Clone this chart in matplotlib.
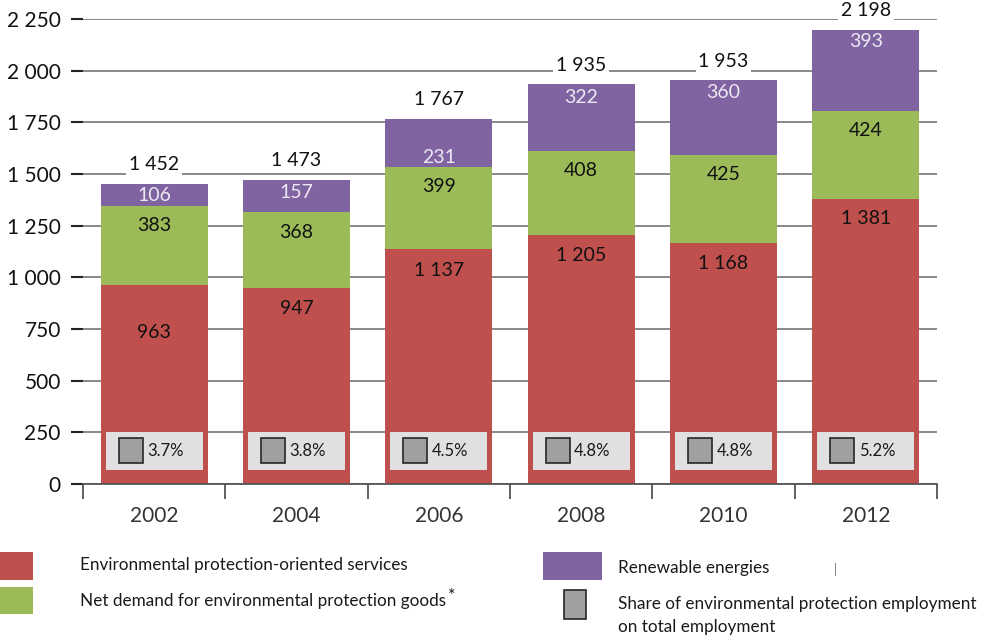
import matplotlib.pyplot as plt
from matplotlib.patches import Rectangle

years = ['2002', '2004', '2006', '2008', '2010', '2012']
services = [963, 947, 1137, 1205, 1168, 1381]
goods = [383, 368, 399, 408, 425, 424]
renewables = [106, 157, 231, 322, 360, 393]
totals = [1452, 1473, 1767, 1935, 1953, 2198]
shares = ['3.7%', '3.8%', '4.5%', '4.8%', '4.8%', '5.2%']

red = '#c0504d'
green = '#9bbb59'
purple = '#8064a2'

plt.rcParams['font.family'] = ['Lato', 'DejaVu Sans']


def fmt(v):
    return '{:,}'.format(int(v)).replace(',', ' ')


fig = plt.figure(figsize=(9.81, 6.37), dpi=100)
W, H = 981.0, 637.0
ax = fig.add_axes([83 / W, 1 - 484 / H, (937 - 83) / W, (484 - 19) / H])

x = list(range(len(years)))
bw = 0.75
bottom2 = [s + g for s, g in zip(services, goods)]
ax.bar(x, services, width=bw, color=red, zorder=2)
ax.bar(x, goods, width=bw, bottom=services, color=green, zorder=2)
ax.bar(x, renewables, width=bw, bottom=bottom2, color=purple, zorder=2)

# px -> data units for offsets
upp = 2250 / 465.0
# label drop below segment top, in pixels (the original is a bit uneven)
red_drop = [48, 20, 21, 21, 21, 20]
purple_drop = [12, 13, 39, 13, 12, 12]

for i in x:
    ax.text(i, services[i] - red_drop[i] * upp, fmt(services[i]), ha='center',
            va='center', fontsize=14, color='#111111', zorder=4)
    ax.text(i, bottom2[i] - 20 * upp, fmt(goods[i]), ha='center', va='center',
            fontsize=14, color='#111111', zorder=4)
    ax.text(i, totals[i] - purple_drop[i] * upp, fmt(renewables[i]), ha='center',
            va='center', fontsize=14, color='#ece8f2', zorder=4)
    ax.text(i, totals[i] + 19 * upp, fmt(totals[i]), ha='center', va='center',
            fontsize=14, color='#111111', zorder=4, clip_on=False,
            bbox=dict(facecolor='white', edgecolor='none', pad=2))
    # share box
    ax.add_patch(Rectangle((i - 0.34, 68), 0.68, 184, facecolor='#e0e0e0',
                           edgecolor='none', zorder=3))
    ax.add_patch(Rectangle((i - 0.25, 102), 0.17, 120, facecolor='#a0a0a0',
                           edgecolor='#262626', linewidth=1.2, zorder=4))
    ax.text(i - 0.05, 160, shares[i], ha='left', va='center', fontsize=12,
            color='#1a1a1a', zorder=5)

ax.set_xlim(-0.5, 5.5)
ax.set_ylim(0, 2250)
ax.set_yticks(range(0, 2251, 250))
ax.set_yticklabels([fmt(v) for v in range(0, 2251, 250)], fontsize=15, color='#111111')
ax.set_xticks(x)
ax.set_xticklabels(years, fontsize=15, color='#333333')
ax.set_xticks([i - 0.5 for i in range(7)], minor=True)
ax.tick_params(axis='x', which='major', length=0, pad=16)
ax.tick_params(axis='x', which='minor', length=11, width=1.3, color='#555555')
ax.tick_params(axis='y', length=9, width=1.5, color='#222222', pad=7)
ax.yaxis.grid(True, color='#7f7f7f', linewidth=1.3, zorder=0)
ax.set_axisbelow(True)
for s in ['top', 'right', 'left']:
    ax.spines[s].set_visible(False)
ax.spines['bottom'].set_color('#555555')
ax.spines['bottom'].set_linewidth(1.3)

# legend drawn by hand
def patch(px, py, pw, ph, color, edge='none', lw=0):
    fig.add_artist(Rectangle((px / W, 1 - (py + ph) / H), pw / W, ph / H,
                             facecolor=color, edgecolor=edge, linewidth=lw,
                             transform=fig.transFigure))

patch(0, 552, 33, 28, red)
patch(0, 587, 33, 27, green)
patch(543, 552, 59, 28, purple)
patch(564, 590, 22, 29, '#a0a0a0', '#262626', 1.2)

lt = dict(fontsize=12.3, color='#1a1a1a', va='center', ha='left')
fig.text(80 / W, 1 - 565 / H, 'Environmental protection-oriented services', **lt)
goods_txt = fig.text(80 / W, 1 - 601 / H, 'Net demand for environmental protection goods', **lt)
fig.text(618 / W, 1 - 568 / H, 'Renewable energies', **lt)
fig.text(618 / W, 1 - 604 / H, 'Share of environmental protection employment', **lt)
fig.text(618 / W, 1 - 627 / H, 'on total employment', **lt)
fig.text(835 / W, 1 - 569 / H, '|', fontsize=9, color='#777777', va='center', ha='center')

# asterisk right after the goods label
fig.canvas.draw()
ext = goods_txt.get_window_extent()
fig.text((ext.x1 + 2) / W, 1 - 596 / H, '*', fontsize=13, color='#1a1a1a',
         va='center', ha='left')

fig.savefig('out.png', dpi=100)
